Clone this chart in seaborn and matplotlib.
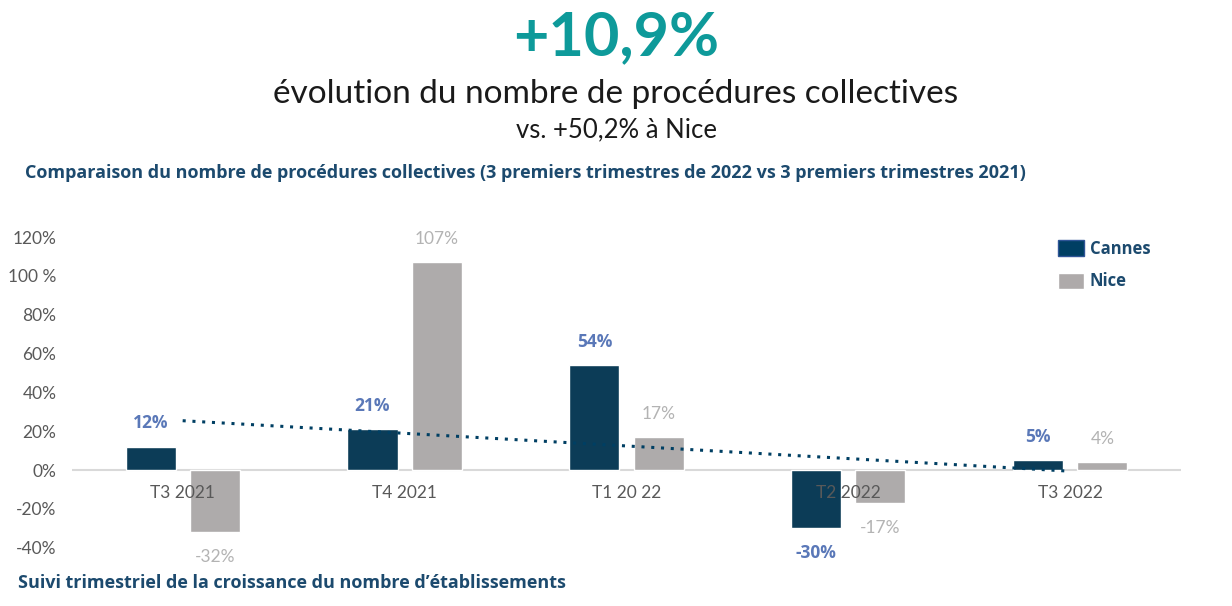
import numpy as np
import pandas as pd
import matplotlib
matplotlib.use('Agg')
import matplotlib.pyplot as plt
import seaborn as sns

# data
quarters = ['T3 2021', 'T4 2021', 'T1 20 22', 'T2 2022', 'T3 2022']
cannes = [12, 21, 54, -30, 5]
nice = [-32, 107, 17, -17, 4]
y_ticks = [-40, -20, 0, 20, 40, 60, 80, 100, 120]
y_tick_labels = ['-40%', '-20%', '0%', '20%', '40%', '60%', '80%', '100 %', '120%']

CANNES_COL = '#003f63'
NICE_COL = '#aeaaaa'
DARK_BLUE = '#1c4a6e'
TEAL = '#0e9a9a'

sns.set_style('white')
plt.rcParams['font.family'] = ['Lato', 'DejaVu Sans']

df = pd.DataFrame({
    'quarter': quarters * 2,
    'value': cannes + nice,
    'city': ['Cannes'] * len(quarters) + ['Nice'] * len(quarters),
})

fig = plt.figure(figsize=(12.32, 6.06), dpi=100)
ax = fig.add_axes([0.0582, 0.0962, 0.9006, 0.5127])

sns.barplot(data=df, x='quarter', y='value', hue='city', order=quarters,
            hue_order=['Cannes', 'Nice'], palette=[CANNES_COL, NICE_COL],
            width=0.578, gap=0.22, ax=ax, legend=False)

# linear trend on Cannes
trend = pd.DataFrame({'x': np.arange(len(quarters)), 'y': cannes})
sns.regplot(data=trend, x='x', y='y', scatter=False, ci=None, ax=ax,
            line_kws=dict(color=CANNES_COL, lw=2.2, linestyle=(0, (1, 2.2))))

ax.set_xlim(-0.5, len(quarters) - 0.5)
ax.set_ylim(-40, 120)
ax.set_yticks(y_ticks)
ax.set_yticklabels(y_tick_labels)
ax.set_xlabel('')
ax.set_ylabel('')
for s in ax.spines.values():
    s.set_visible(False)
ax.axhline(0, color='#d9d9d9', lw=1.5, zorder=0)
ax.tick_params(axis='y', length=0, labelsize=12.5, labelcolor='#595959', pad=11)
ax.tick_params(axis='x', length=0)
# x labels sit just below the zero line
ax.set_xticks(range(len(quarters)))
ax.set_xticklabels([])
for i, q in enumerate(quarters):
    ax.text(i, -12, q, ha='center', va='center', fontsize=12.5, color='#595959')

# value labels
off = 0.1445
for i, (c, n) in enumerate(zip(cannes, nice)):
    ax.text(i - off, c + 12 if c > 0 else c - 12.8, f'{c}%', ha='center', va='center',
            fontsize=12.5, fontweight='bold', color='#5a78b8',
            family=['Open Sans', 'DejaVu Sans'])
    ax.text(i + off, n + 12 if n > 0 else n - 12.6, f'{n}%', ha='center', va='center',
            fontsize=12.5, color='#b3b3b3')

# legend
handles = [plt.Rectangle((0, 0), 1, 1, fc=CANNES_COL, ec='#2f5597', lw=1),
           plt.Rectangle((0, 0), 1, 1, fc=NICE_COL)]
leg = ax.legend(handles, ['Cannes', 'Nice'], loc='upper left',
                bbox_to_anchor=(0.889, 0.99), frameon=False,
                prop={'family': ['Open Sans', 'DejaVu Sans'], 'weight': 'bold', 'size': 12},
                handlelength=1.56, handleheight=1.1, labelspacing=0.85,
                handletextpad=0.35, borderpad=0, borderaxespad=0)
for t in leg.get_texts():
    t.set_color(DARK_BLUE)

# headings
fig.text(0.5, 0.938, '+10,9%', ha='center', va='center', fontsize=44,
         fontweight='bold', color=TEAL)
fig.text(0.5, 0.845, 'évolution du nombre de procédures collectives',
         ha='center', va='center', fontsize=24, color='#1a1a1a')
fig.text(0.5, 0.785, 'vs. +50,2% à Nice', ha='center', va='center',
         fontsize=18.5, color='#1a1a1a')
fig.text(0.02, 0.714, 'Comparaison du nombre de procédures collectives '
         '(3 premiers trimestres de 2022 vs 3 premiers trimestres 2021)',
         ha='left', va='center', fontsize=13, fontweight='bold', color=DARK_BLUE,
         family=['Open Sans', 'DejaVu Sans'])
fig.text(0.015, 0.038, 'Suivi trimestriel de la croissance du nombre d\u2019établissements',
         ha='left', va='center', fontsize=13, fontweight='bold', color=DARK_BLUE,
         family=['Open Sans', 'DejaVu Sans'])

fig.savefig('out.png', dpi=100, facecolor='white')
